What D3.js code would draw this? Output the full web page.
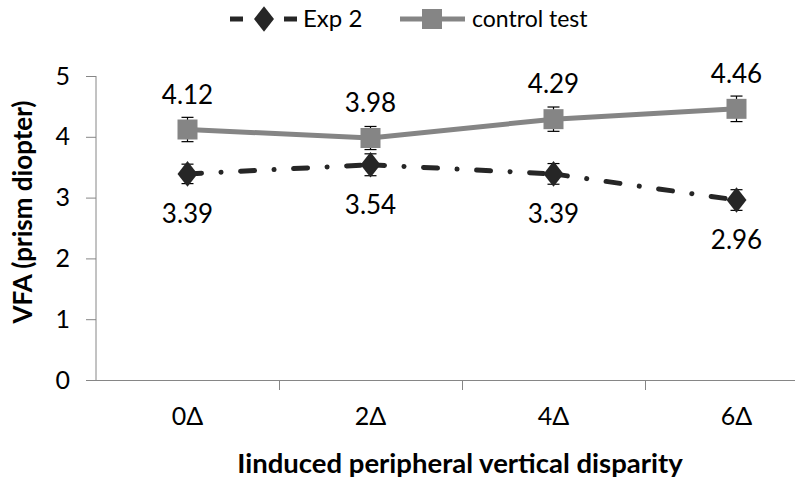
<!DOCTYPE html>
<html><head><meta charset="utf-8">
<script src="https://cdn.jsdelivr.net/npm/d3@7"></script>
<style>body{margin:0;background:#fff}svg{display:block}text{font-family:Lato,"Open Sans",sans-serif}</style>
</head><body><svg id="c" width="795" height="478"></svg>
<script>
const categories = ["0Δ","2Δ","4Δ","6Δ"];
const exp2 = [3.39, 3.54, 3.39, 2.96];
const exp2Err = [0.16, 0.18, 0.17, 0.17];
const control = [4.12, 3.98, 4.29, 4.46];
const controlErr = [0.20, 0.19, 0.20, 0.21];
const yTicks = [0,1,2,3,4,5];
const seriesNames = ["Exp 2", "control test"];
const xTitle = "Iinduced peripheral vertical disparity";
const yTitle = "VFA (prism diopter)";

const svg = d3.select("#c");
const x = d3.scaleBand().domain(categories).range([96, 828]);
const y = d3.scaleLinear().domain([0,5]).range([380, 76]);
const cx = c => x(c) + x.bandwidth()/2;
const axisCol = "#868686";
const expCol = "#262626", ctlCol = "#858585";

// y axis
const ya = svg.append("g").attr("transform","translate(96,0)")
  .call(d3.axisLeft(y).tickValues(yTicks).tickSize(10).tickPadding(16).tickFormat(d3.format("d")));
ya.select(".domain").attr("stroke",axisCol).attr("d","M0,"+y(5)+"V"+y(0));
ya.selectAll(".tick line").attr("stroke",axisCol);
ya.selectAll(".tick text").attr("font-size",25).attr("fill","#000");

// x axis
const xa = svg.append("g").attr("transform","translate(0,380)")
  .call(d3.axisBottom(x).tickSize(0).tickPadding(45));
xa.select(".domain").attr("stroke",axisCol).attr("d","M86,0.5H828");
xa.selectAll(".tick text").attr("font-size",25).attr("fill","#000").attr("dy","0");
xa.selectAll(".bnd").data(categories.slice(1)).enter().append("line")
  .attr("x1",d=>x(d)+0.5).attr("x2",d=>x(d)+0.5).attr("y1",0).attr("y2",10).attr("stroke",axisCol);

// titles
svg.append("text").attr("x",460).attr("y",473).attr("text-anchor","middle")
  .attr("font-size",27.5).attr("font-weight","bold").text(xTitle);
svg.append("text").attr("transform","translate(32,212) rotate(-90)").attr("text-anchor","middle")
  .attr("font-size",26).attr("font-weight","bold").text(yTitle);

// error bars
function errBars(vals, errs) {
  const g = svg.append("g").attr("stroke","#000").attr("stroke-width",1.2);
  categories.forEach((c,i)=>{
    const X = cx(c), t = y(vals[i]+errs[i]), b = y(vals[i]-errs[i]);
    g.append("line").attr("x1",X).attr("x2",X).attr("y1",t).attr("y2",b);
    g.append("line").attr("x1",X-6).attr("x2",X+6).attr("y1",t).attr("y2",t);
    g.append("line").attr("x1",X-6).attr("x2",X+6).attr("y1",b).attr("y2",b);
  });
}
errBars(control, controlErr);
errBars(exp2, exp2Err);

// control line
svg.append("path").datum(control)
  .attr("d", d3.line().x((d,i)=>cx(categories[i])).y(d=>y(d)))
  .attr("fill","none").attr("stroke",ctlCol).attr("stroke-width",5);
// exp2 line: each segment restarts dash pattern
const dash = "14,19.5,0.1,19.5";
for (let i=0;i<categories.length-1;i++){
  svg.append("line").attr("x1",cx(categories[i])).attr("y1",y(exp2[i]))
    .attr("x2",cx(categories[i+1])).attr("y2",y(exp2[i+1]))
    .attr("stroke",expCol).attr("stroke-width",5).attr("stroke-linecap","round")
    .attr("stroke-dasharray",dash);
}
// markers
const sq = d3.symbol().type(d3.symbolSquare).size(400);
const dm = d3.symbol().type(d3.symbolDiamond).size(190);
svg.selectAll(".sq").data(control).enter().append("path")
  .attr("d",sq).attr("transform",(d,i)=>`translate(${cx(categories[i])},${y(d)})`)
  .attr("fill",ctlCol);
svg.selectAll(".dm").data(exp2).enter().append("path")
  .attr("d",dm).attr("transform",(d,i)=>`translate(${cx(categories[i])},${y(d)}) scale(1.35,1)`)
  .attr("fill",expCol);

// value labels
svg.selectAll(".lc").data(control).enter().append("text")
  .attr("x",(d,i)=>cx(categories[i])).attr("y",d=>y(d)-26)
  .attr("text-anchor","middle").attr("font-size",26).text(d=>d.toFixed(2));
svg.selectAll(".le").data(exp2).enter().append("text")
  .attr("x",(d,i)=>cx(categories[i])).attr("y",d=>y(d)+49)
  .attr("text-anchor","middle").attr("font-size",26).text(d=>d.toFixed(2));

// legend
const lg = svg.append("g");
lg.append("line").attr("x1",230).attr("x2",243).attr("y1",19).attr("y2",19).attr("stroke",expCol).attr("stroke-width",5);
lg.append("line").attr("x1",284).attr("x2",297).attr("y1",19).attr("y2",19).attr("stroke",expCol).attr("stroke-width",5);
lg.append("path").attr("d",dm).attr("transform","translate(264,19) scale(1.35,1)").attr("fill",expCol);
lg.append("text").attr("x",303).attr("y",27).attr("font-size",24).text(seriesNames[0]);
lg.append("line").attr("x1",400).attr("x2",465).attr("y1",19).attr("y2",19).attr("stroke",ctlCol).attr("stroke-width",5);
lg.append("path").attr("d",sq).attr("transform","translate(432,19)").attr("fill",ctlCol);
lg.append("text").attr("x",472).attr("y",27).attr("font-size",23).text(seriesNames[1]);
</script></body></html>
